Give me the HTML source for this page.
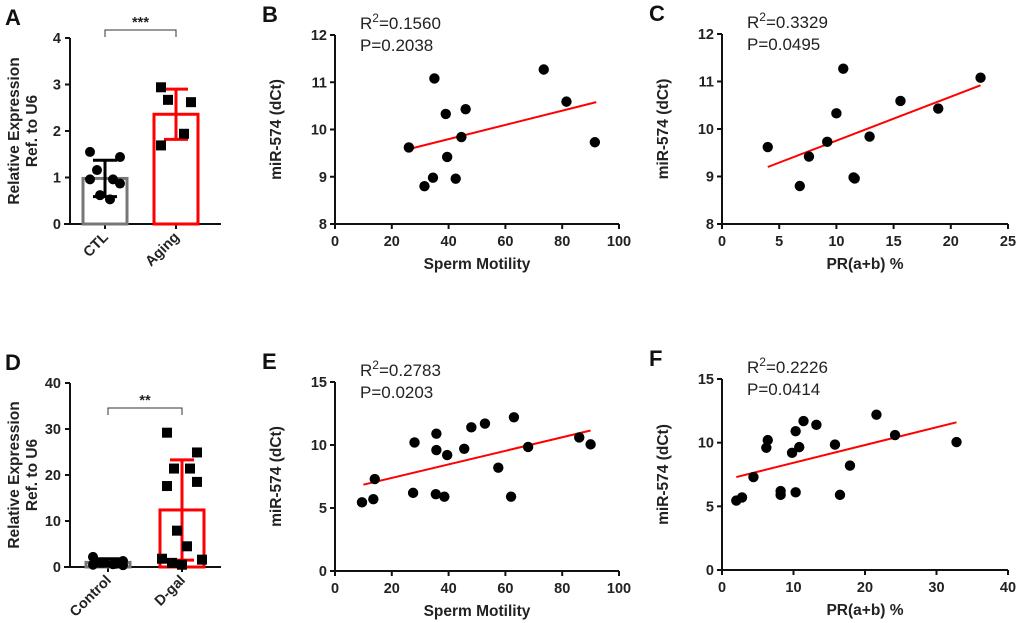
<!DOCTYPE html>
<html><head><meta charset="utf-8"><style>
body{margin:0;background:#fff}
svg{display:block;font-family:"Liberation Sans",Arial,sans-serif}
.tk{font-size:14.5px;font-weight:bold;fill:#222}
.ti{font-size:15.5px;font-weight:bold;fill:#222}
.pl{font-size:22px;font-weight:bold;fill:#111}
.st{font-size:17px;fill:#222}
</style></head><body>
<svg id="c" width="1020" height="623" viewBox="0 0 1020 623" xmlns="http://www.w3.org/2000/svg"></svg>
<script>
// Panel A
const aCats=["CTL","Aging"];
const aMeans=[0.98,2.36];
const aSd=[0.39,0.54];
const aCtl=[1.55,1.44,1.16,0.96,0.96,0.87,0.62,0.53];
const aAging=[2.94,2.62,2.67,1.94,1.69];
const aTicks=[0,1,2,3,4];
// Panel D
const dCats=["Control","D-gal"];
const dMeans=[1.0,12.4];
const dSd=[0.8,10.9];
const dCtl=[2.2,1.3,0.9,0.7,0.5,0.4,0.9,0.6];
const dGal=[29.2,24.9,21.4,21.4,17.6,18.5,7.9,4.5,1.8,1.6,0.5,0.9];
const dTicks=[0,10,20,30,40];
// Panel B
const bX=[26,31.5,34.5,35,39,39.5,42.5,44.5,46,73.5,81.5,91.5];
const bY=[9.62,8.8,8.98,11.08,10.33,9.42,8.96,9.84,10.43,11.27,10.59,9.73];
const bFit=[[27,9.6],[92,10.58]];
// Panel C
const cX=[4,6.8,7.6,9.2,10,10.6,11.5,11.6,12.9,15.6,18.9,22.6];
const cY=[9.62,8.8,9.42,9.73,10.33,11.27,8.98,8.96,9.84,10.59,10.43,11.08];
const cFit=[[4,9.2],[22.6,10.92]];
// Panel E
const eX=[9.5,13.5,14,27.5,28,35.5,35.7,35.7,38.5,39.5,45.5,48,52.8,57.5,62,63,68,86,90];
const eY=[5.45,5.7,7.3,6.2,10.2,6.1,10.9,9.6,5.9,9.2,9.7,11.4,11.7,8.2,5.9,12.2,9.85,10.6,10.05];
const eFit=[[10,6.85],[90,11.15]];
// Panel F
const fX=[2,2.8,4.4,6.2,6.4,8.2,8.2,9.8,10.3,10.3,10.8,11.4,13.2,15.8,16.5,17.9,21.6,24.2,32.8];
const fY=[5.45,5.7,7.3,9.6,10.2,6.2,5.9,9.2,10.9,6.1,9.65,11.7,11.4,9.85,5.9,8.2,12.2,10.6,10.05];
const fFit=[[2,7.3],[32.8,11.6]];

const S=document.getElementById('c');const NS='http://www.w3.org/2000/svg';
function el(t,a,txt){const e=document.createElementNS(NS,t);for(const k in a)e.setAttribute(k,a[k]);if(txt!==undefined)e.textContent=txt;S.appendChild(e);return e;}
function txt(x,y,s,cls,anchor,rot,name){const e=el('text',{x:x,y:y,class:cls,'text-anchor':anchor||'middle'},s);if(rot)e.setAttribute('transform','rotate('+rot+' '+x+' '+y+')');


return e;}

function scatter(o){
 const sx=v=>o.x0+(v-o.xmin)/(o.xmax-o.xmin)*(o.x1-o.x0);
 const sy=v=>o.yb-(v-o.ymin)/(o.ymax-o.ymin)*(o.yb-o.yt);
 let a=el('line',{x1:o.x0,y1:o.yt,x2:o.x0,y2:o.yb+4,stroke:'#111','stroke-width':2});
 
 
 a=el('line',{x1:o.x0-4,y1:o.yb,x2:o.x1,y2:o.yb,stroke:'#111','stroke-width':2});
 
 
 o.yt2.forEach(v=>{el('line',{x1:o.x0-5,y1:sy(v),x2:o.x0,y2:sy(v),stroke:'#111','stroke-width':2});txt(o.x0-8,sy(v)+5,String(v),'tk','end',0,'y-tick-label');});
 o.xt.forEach(v=>{el('line',{x1:sx(v),y1:o.yb,x2:sx(v),y2:o.yb+5,stroke:'#111','stroke-width':2});txt(sx(v),o.yb+22,String(v),'tk','middle',0,'x-tick-label');});
 const f=el('line',{x1:sx(o.fit[0][0]),y1:sy(o.fit[0][1]),x2:sx(o.fit[1][0]),y2:sy(o.fit[1][1]),stroke:'#f00','stroke-width':2});
 
 
 o.xs.forEach((v,i)=>{const c=el('circle',{cx:sx(v),cy:sy(o.ys[i]),r:5.2,fill:'#000'});
  
  });
 txt(o.x0-54,(o.yt+o.yb)/2,'miR-574 (dCt)','ti','middle',-90,'y-axis-title');
 txt((o.x0+o.x1)/2,o.yb+45,o.xtitle,'ti','middle',0,'x-axis-title');
 const r=el('text',{x:o.x0+25,y:o.yt-6,class:'st'});r.innerHTML='R<tspan dy="-7" font-size="12">2</tspan><tspan dy="7">='+o.r2+'</tspan>';
 
 
 txt(o.x0+25,o.yt+16,'P='+o.p,'st','start',0,'p-value');
 txt(o.x0-73,o.yt-13,o.lab,'pl','start',0,'panel-label');
}
scatter({x0:335,x1:619,yt:35,yb:224,xmin:0,xmax:100,ymin:8,ymax:12,xt:[0,20,40,60,80,100],yt2:[8,9,10,11,12],xs:bX,ys:bY,fit:bFit,xtitle:'Sperm Motility',r2:'0.1560',p:'0.2038',lab:'B'});
scatter({x0:722,x1:1008,yt:34,yb:224,xmin:0,xmax:25,ymin:8,ymax:12,xt:[0,5,10,15,20,25],yt2:[8,9,10,11,12],xs:cX,ys:cY,fit:cFit,xtitle:'PR(a+b) %',r2:'0.3329',p:'0.0495',lab:'C'});
scatter({x0:335,x1:619,yt:382,yb:571,xmin:0,xmax:100,ymin:0,ymax:15,xt:[0,20,40,60,80,100],yt2:[0,5,10,15],xs:eX,ys:eY,fit:eFit,xtitle:'Sperm Motility',r2:'0.2783',p:'0.0203',lab:'E'});
scatter({x0:722,x1:1008,yt:379,yb:570,xmin:0,xmax:40,ymin:0,ymax:15,xt:[0,10,20,30,40],yt2:[0,5,10,15],xs:fX,ys:fY,fit:fFit,xtitle:'PR(a+b) %',r2:'0.2226',p:'0.0414',lab:'F'});

function bars(o){
 const sy=v=>o.yb-v/o.ymax*(o.yb-o.yt);
 let a=el('line',{x1:70,y1:o.yt,x2:70,y2:o.yb+1,stroke:'#111','stroke-width':2});
 
 
 a=el('line',{x1:64,y1:o.yb,x2:221,y2:o.yb,stroke:'#111','stroke-width':2});
 
 
 o.ticks.forEach(v=>{el('line',{x1:65,y1:sy(v),x2:70,y2:sy(v),stroke:'#111','stroke-width':2});txt(61,sy(v)+5,String(v),'tk','end',0,'y-tick-label');});
 const cols=['#777','#f00'];
 o.cats.forEach((c,i)=>{const cx=o.cx[i];
  el('line',{x1:cx,y1:o.yb,x2:cx,y2:o.yb+5,stroke:'#111','stroke-width':2});
  const t=txt(cx+4,o.yb+14,c,'tk','end',-45,'x-tick-label');
  const b=el('rect',{x:cx-22,y:sy(o.means[i]),width:44,height:o.yb-sy(o.means[i]),fill:'none',stroke:cols[i],'stroke-width':3});
  
  
  const ec=i?'#f00':'#000';
  el('line',{x1:cx,y1:sy(o.means[i]+o.sd[i]),x2:cx,y2:sy(Math.max(0,o.means[i]-o.sd[i])),stroke:ec,'stroke-width':3});
  el('line',{x1:cx-12,y1:sy(o.means[i]+o.sd[i]),x2:cx+12,y2:sy(o.means[i]+o.sd[i]),stroke:ec,'stroke-width':3});
  el('line',{x1:cx-12,y1:sy(Math.max(0,o.means[i]-o.sd[i])),x2:cx+12,y2:sy(Math.max(0,o.means[i]-o.sd[i])),stroke:ec,'stroke-width':3});
 });
 const offs=[-15,15,-8,8,-15,15,-5,5,-20,20,0,-10];
 o.p0.forEach((v,i)=>{const p=el('circle',{cx:o.cx[0]+offs[i%offs.length],cy:sy(v),r:5,fill:'#000'});
  
  });
 o.p1.forEach((v,i)=>{const p=el('rect',{x:o.cx[1]+offs[i%offs.length]-5,y:sy(v)-5,width:10,height:10,fill:'#000'});
  
  });
 const br=el('path',{d:'M'+o.cx[0]+' '+(o.by+7)+'V'+o.by+'H'+o.cx[1]+'V'+(o.by+7),fill:'none',stroke:'#333','stroke-width':1});
 
 
 txt((o.cx[0]+o.cx[1])/2,o.by-3,o.sig,'tk','middle',0,'significance-stars');
 txt(19,(o.yt+o.yb)/2,'Relative Expression','ti','middle',-90,'y-axis-title');
 txt(37,(o.yt+o.yb)/2,'Ref. to U6','ti','middle',-90,'y-axis-title');
 txt(5,o.yt-13,o.lab,'pl','start',0,'panel-label');
}
bars({yt:38,yb:224,ymax:4,ticks:aTicks,cats:aCats,cx:[105,176],means:aMeans,sd:aSd,p0:aCtl,p1:aAging,by:30,sig:'***',lab:'A'});
bars({yt:383,yb:567,ymax:40,ticks:dTicks,cats:dCats,cx:[108,182],means:dMeans,sd:dSd,p0:dCtl,p1:dGal,by:408,sig:'**',lab:'D'});
</script>
</body></html>
